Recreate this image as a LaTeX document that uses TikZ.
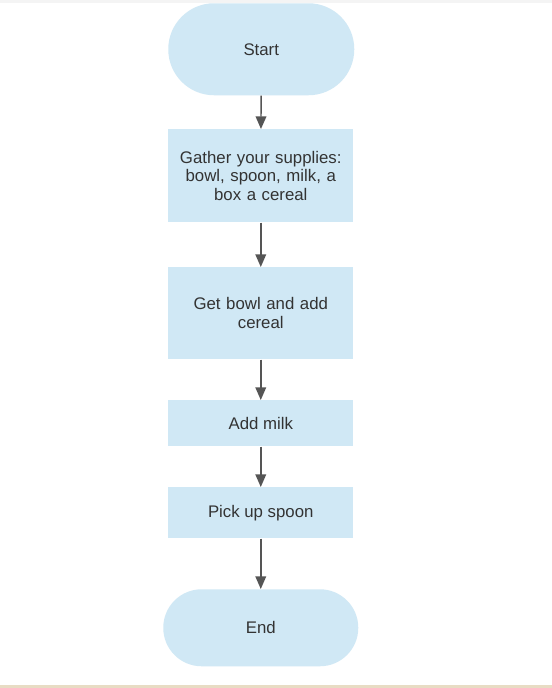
\documentclass[tikz,border=0pt]{standalone}
\usepackage{fontspec}
\setmainfont{Liberation Sans}
\usetikzlibrary{arrows.meta}
\definecolor{boxfill}{HTML}{D0E8F5}
\definecolor{txt}{HTML}{333333}
\definecolor{arr}{HTML}{555555}
\definecolor{topband}{HTML}{F4F4F4}
\definecolor{botband}{HTML}{E8DCC4}
\begin{document}
\begin{tikzpicture}[x=0.75pt,y=-0.75pt,
  box/.style={fill=boxfill,draw=none,text=txt,font=\fontsize{12.6pt}{14pt}\selectfont,align=center,inner sep=0pt,anchor=north west},
  conn/.style={draw=arr,line width=1.1pt,-{Triangle[width=8pt,length=9.5pt]}}]
\useasboundingbox (0,0) rectangle (552,688);
\fill[white] (0,0) rectangle (552,688);
\fill[topband] (0,0) rectangle (552,3);
\fill[botband] (0,685) rectangle (552,688);
\node[box,minimum width=139.5pt,minimum height=69pt,rounded corners=34.4pt] (start) at (168,3) {Start};
\node[box,minimum width=138.75pt,minimum height=69.75pt,text width=135pt] (gather) at (168,129) {Gather your supplies:\\bowl, spoon, milk, a\\box a cereal};
\node[box,minimum width=138.75pt,minimum height=69pt,text width=135pt] (bowl) at (168,267) {Get bowl and add\\cereal};
\node[box,minimum width=138.75pt,minimum height=34.5pt] (milk) at (168,400) {Add milk};
\node[box,minimum width=138.75pt,minimum height=38.25pt] (spoon) at (168,487) {Pick up spoon};
\node[box,minimum width=146.25pt,minimum height=57.75pt,rounded corners=28.8pt] (end) at (163,589) {End};
\draw[conn] (start) -- (gather);
\draw[conn] (gather) -- (bowl);
\draw[conn] (bowl) -- (milk);
\draw[conn] (milk) -- (spoon);
\draw[conn] (spoon) -- (end);
\end{tikzpicture}
\end{document}
